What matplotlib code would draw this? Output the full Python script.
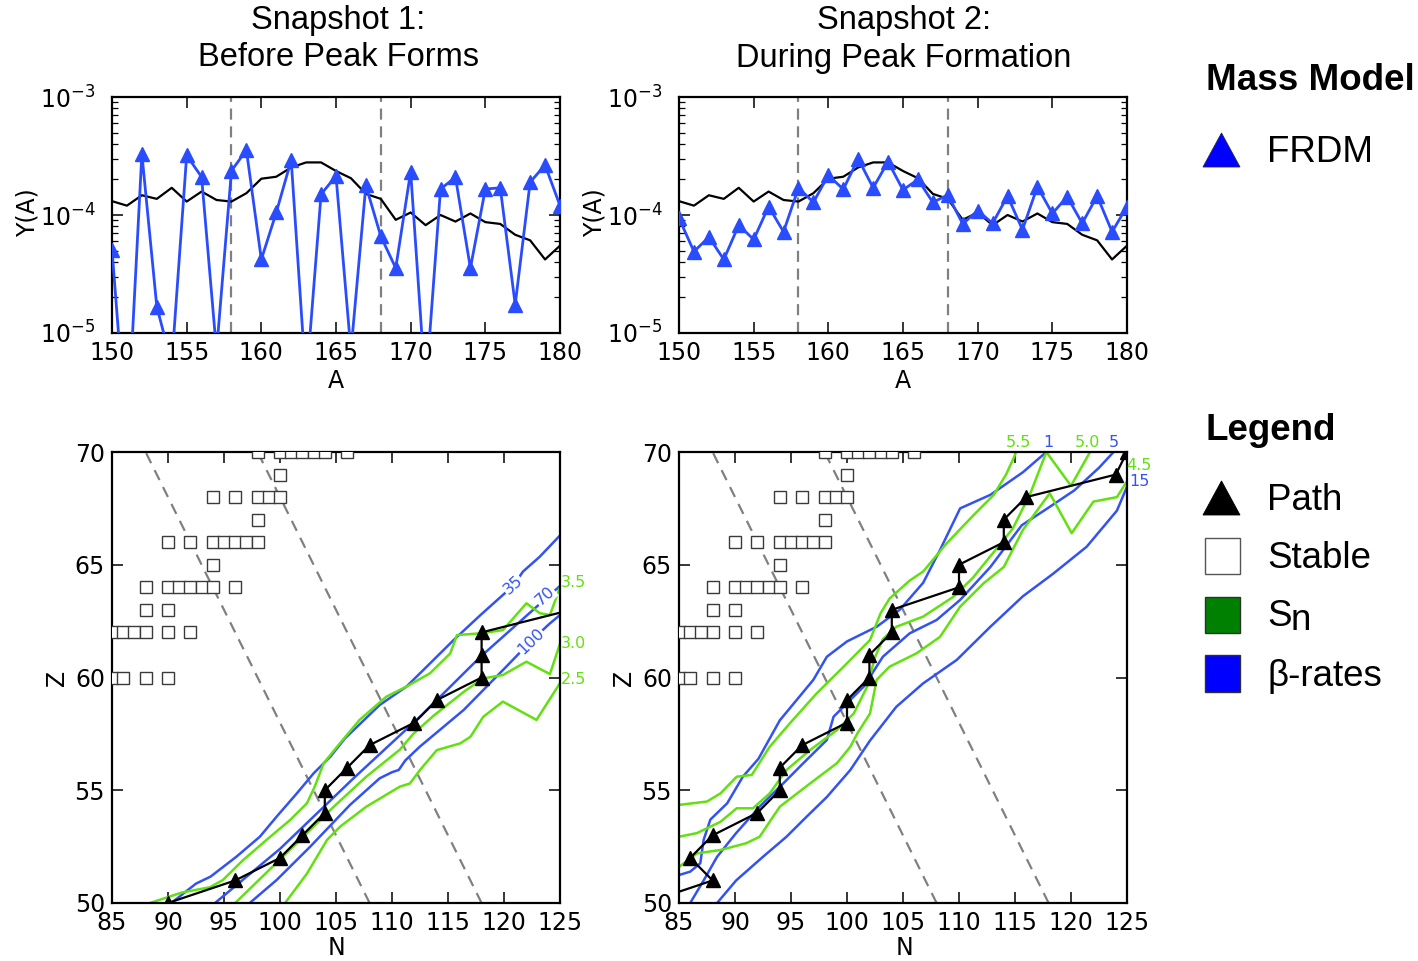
import numpy as np
import matplotlib
matplotlib.use("Agg")
import matplotlib.pyplot as plt
from matplotlib.patches import Polygon, Rectangle
from matplotlib.ticker import NullFormatter

# ---------------- abundance snapshots: Y(A), A = 150..180 ----------------
mass_numbers = list(range(150, 181))
baseline_yield = [1.31e-4, 1.20e-4, 1.47e-4, 1.37e-4, 1.70e-4, 1.30e-4, 1.58e-4,
                  1.34e-4, 1.30e-4, 1.53e-4, 2.03e-4, 2.11e-4, 2.53e-4, 2.79e-4,
                  2.79e-4, 2.36e-4, 2.05e-4, 1.51e-4, 1.37e-4, 9.1e-5, 1.05e-4,
                  8.2e-5, 1.0e-4, 8.8e-5, 1.03e-4, 8.7e-5, 8.4e-5, 6.8e-5, 6.1e-5,
                  4.2e-5, 5.5e-5]
frdm_snapshot1 = [5.1e-5, 1.2e-6, 3.3e-4, 1.67e-5, 5.5e-6, 3.2e-4, 2.1e-4, 7.0e-6,
                  2.37e-4, 3.55e-4, 4.2e-5, 1.05e-4, 2.92e-4, 3.7e-6, 1.5e-4,
                  2.14e-4, 7.0e-6, 1.78e-4, 6.6e-5, 3.55e-5, 2.33e-4, 3.3e-6,
                  1.66e-4, 2.09e-4, 3.55e-5, 1.66e-4, 1.7e-4, 1.74e-5, 1.9e-4,
                  2.65e-4, 1.2e-4]
frdm_snapshot2 = [9.4e-5, 4.9e-5, 6.5e-5, 4.2e-5, 8.2e-5, 6.2e-5, 1.18e-4, 7.2e-5,
                  1.7e-4, 1.28e-4, 2.18e-4, 1.65e-4, 3.0e-4, 1.7e-4, 2.83e-4,
                  1.63e-4, 2.0e-4, 1.28e-4, 1.48e-4, 8.4e-5, 1.09e-4, 8.5e-5,
                  1.45e-4, 7.5e-5, 1.74e-4, 1.03e-4, 1.43e-4, 8.5e-5, 1.45e-4,
                  7.2e-5, 1.18e-4]
peak_window = [158, 168]          # mass numbers bounding the peak region
peak_labels = ["Snapshot 1:\nBefore Peak Forms", "Snapshot 2:\nDuring Peak Formation"]

# ---------------- stable nuclei: Z -> list of N ----------------
stable_nuclei = {
    70: [98, 100, 101, 102, 103, 104, 106],
    69: [100],
    68: [94, 96, 98, 99, 100],
    67: [98],
    66: [90, 92, 94, 95, 96, 97, 98],
    65: [94],
    64: [88, 90, 91, 92, 93, 94, 96],
    63: [88, 90],
    62: [85, 86, 87, 88, 90, 92],
    60: [85, 86, 88, 90],
}

# ---------------- r-process path (N, Z) ----------------
path1_N = [90, 96, 100, 102, 104, 104, 106, 108, 112, 114, 118, 118, 118, 126]
path1_Z = [50, 51, 52, 53, 54, 55, 56, 57, 58, 59, 60, 61, 62, 63]
path2_N = [82, 88, 86, 88, 92, 94, 94, 96, 100, 100, 102, 102, 104, 104, 110, 110,
           114, 114, 116, 124, 125]
path2_Z = [50, 51, 52, 53, 54, 55, 56, 57, 58, 59, 60, 61, 62, 63, 64, 65, 66, 67,
           68, 69, 70]

# ---------------- contour lines, snapshot 1 ----------------
# beta-decay rate contours (levels 35, 70, 100)
beta35_N = [90.3, 92.5, 93.8, 96.1, 98.2, 99.7, 101.5, 103.0, 104.5, 105.8, 108.9,
            111.3, 113.1, 115.5, 117.9, 120.8, 121.7, 123.2, 125.0]
beta35_Z = [50.0, 50.86, 51.17, 52.05, 52.94, 53.83, 54.86, 55.75, 56.49, 57.3, 58.78,
            59.6, 60.48, 61.66, 62.77, 64.06, 64.7, 65.36, 66.3]
beta70_N = [94.2, 100.0, 106.5, 112.5, 117.9, 122.6, 125.0]
beta70_Z = [50.0, 52.4, 55.5, 58.26, 60.92, 63.0, 64.06]
beta100_N = [97.3, 99.7, 102.7, 106.25, 108.9, 110.0, 110.6, 111.2, 112.5, 116.4,
             120.2, 122.5, 124.1, 125.0]
beta100_Z = [50.0, 51.02, 52.5, 54.35, 55.53, 55.8, 55.9, 56.33, 56.94, 58.56,
             60.48, 61.66, 62.4, 62.77]
# neutron separation energy contours (levels 3.5, 3.0, 2.5)
sn35_N = [88.4, 91.2, 93.75, 94.9, 96.7, 98.8, 100.9, 102.4, 103.1, 103.9, 105.1,
          107.1, 109.5, 111.3, 113.4, 115.2, 115.8, 117.9, 119.9, 122.0, 123.2,
          124.1, 125.0]
sn35_Z = [50.0, 50.46, 50.7, 51.02, 51.9, 52.8, 53.68, 54.42, 55.16, 56.2, 56.93,
          58.12, 59.15, 59.6, 60.19, 61.07, 61.88, 61.96, 62.1, 63.29, 62.85,
          62.77, 64.0]
sn30_N = [96.0, 101.8, 104.8, 107.7, 110.7, 111.9, 113.7, 116.5, 118.15, 119.9,
          122.0, 124.1, 125.0]
sn30_Z = [50.0, 52.8, 54.27, 55.6, 56.8, 57.5, 58.3, 59.4, 59.96, 60.11, 60.7,
          60.15, 61.5]
sn25_N = [100.45, 102.4, 104.2, 105.4, 107.7, 110.7, 111.6, 112.5, 114.0, 116.1,
          117.0, 118.15, 119.9, 122.9, 125.0]
sn25_Z = [50.0, 51.3, 52.8, 53.4, 54.27, 55.16, 55.3, 55.9, 56.78, 57.08, 57.37,
          58.26, 58.93, 58.12, 59.75]

# ---------------- contour lines, snapshot 2 ----------------
beta1_N = [85.0, 86.0, 86.9, 87.2, 87.8, 89.3, 90.7, 92.1, 94.0, 95.5, 97.0, 98.2,
           100.0, 102.65, 104.7, 106.8, 108.3, 110.1, 112.8, 115.7, 117.8]
beta1_Z = [51.24, 51.39, 51.76, 52.8, 53.7, 54.42, 55.6, 56.4, 58.1, 59.0, 59.9,
           60.92, 61.6, 62.25, 63.0, 64.2, 65.65, 67.5, 68.1, 69.1, 70.0]
beta5_N = [86.0, 87.2, 88.4, 90.1, 92.2, 94.3, 96.1, 98.2, 98.8, 100.0, 101.5,
           103.2, 105.6, 108.0, 110.1, 112.8, 115.6, 118.2, 120.3, 122.5, 123.8]
beta5_Z = [50.0, 51.0, 52.05, 53.1, 54.27, 55.3, 56.2, 57.23, 58.26, 58.86, 59.6,
           60.92, 61.96, 62.55, 63.44, 64.9, 66.75, 67.6, 68.3, 69.3, 70.0]
beta15_N = [88.4, 90.1, 92.5, 94.6, 96.4, 98.2, 100.3, 102.05, 104.4, 106.8, 109.8,
            112.8, 115.7, 118.4, 121.4, 124.1, 125.0]
beta15_Z = [50.0, 51.0, 52.05, 52.94, 53.83, 54.7, 55.9, 57.2, 58.7, 59.74, 60.78,
            62.25, 63.6, 64.6, 65.8, 67.4, 68.46]
sn55_N = [85.0, 87.5, 88.7, 90.15, 91.5, 93.1, 94.9, 97.3, 99.7, 102.05, 103.0,
          103.8, 105.6, 106.8, 108.9, 111.3, 113.1, 114.2, 114.85, 115.1]
sn55_Z = [54.35, 54.5, 54.86, 55.6, 55.68, 56.93, 57.97, 59.3, 60.48, 61.66, 62.85,
          63.5, 64.3, 64.7, 65.95, 67.2, 68.1, 69.0, 69.7, 70.0]
sn50_N = [85.0, 86.6, 88.7, 90.15, 91.6, 93.1, 94.6, 96.7, 99.1, 100.6, 101.8,
          102.5, 103.2, 104.4, 106.8, 109.5, 111.2, 113.0, 114.8, 116.4, 117.8,
          120.0, 121.7]
sn50_Z = [52.94, 53.1, 53.6, 54.2, 54.2, 54.86, 55.9, 56.78, 57.67, 58.4, 59.6,
          60.9, 61.7, 62.25, 62.7, 63.58, 64.4, 65.5, 66.6, 68.2, 70.0, 68.5, 70.0]
sn45_N = [85.0, 86.6, 88.7, 91.0, 92.2, 94.0, 96.7, 99.1, 100.3, 100.9, 102.05,
          102.65, 103.8, 106.2, 108.3, 110.1, 112.2, 114.0, 115.7, 118.1, 120.06,
          122.0, 124.1, 125.0]
sn45_Z = [51.6, 52.2, 52.35, 52.65, 52.94, 54.27, 55.3, 56.2, 56.93, 57.5, 58.4,
          59.9, 60.48, 61.07, 61.8, 63.14, 64.18, 64.9, 66.54, 68.17, 66.4, 67.8,
          68.0, 68.7]

BLUE_LINE = "#2a4cff"
BLUE_CONT = "#3352f2"
GREEN_CONT = "#62e010"
GRAY_DASH = "#808080"

W, H = 1418, 961
fig = plt.figure(figsize=(W / 100, H / 100), dpi=100)
fig.patch.set_facecolor("white")


def px_axes(x0, y0, x1, y1):
    return fig.add_axes([x0 / W, 1 - y1 / H, (x1 - x0) / W, (y1 - y0) / H])


def style_axes(ax, ypad):
    for s in ax.spines.values():
        s.set_linewidth(1.6)
    ax.tick_params(which="both", direction="in", top=True, right=True)
    ax.tick_params(which="major", length=8, width=1.1, labelsize=17)
    ax.tick_params(which="minor", length=4, width=0.9)
    ax.tick_params(axis="x", pad=6)
    ax.tick_params(axis="y", pad=ypad)


ax_t = [px_axes(112, 97, 560, 333), px_axes(679, 97, 1127, 333)]
ax_b = [px_axes(112, 452, 560, 903), px_axes(679, 452, 1127, 903)]

# ---------------- abundance panels ----------------
for ax, frdm in zip(ax_t, [frdm_snapshot1, frdm_snapshot2]):
    ax.set_yscale("log")
    for a in peak_window:
        ax.axvline(a, color=GRAY_DASH, lw=1.6, ls=(0, (5, 3)), zorder=1)
    ax.plot(mass_numbers, baseline_yield, color="black", lw=1.6, zorder=2)
    ax.plot(mass_numbers, frdm, color=BLUE_LINE, lw=2.0, marker="^", ms=9.5,
            mec=BLUE_LINE, mfc=BLUE_LINE, zorder=3)
    ax.set_xlim(150, 180)
    ax.set_ylim(1e-5, 1e-3)
    ax.set_xticks(range(150, 181, 5))
    ax.set_yticks([1e-5, 1e-4, 1e-3])
    ax.yaxis.set_minor_formatter(NullFormatter())
    style_axes(ax, ypad=12)

# ---------------- nuclear chart panels ----------------
snap_contours = [
    [(beta35_N, beta35_Z, BLUE_CONT), (beta70_N, beta70_Z, BLUE_CONT),
     (beta100_N, beta100_Z, BLUE_CONT), (sn35_N, sn35_Z, GREEN_CONT),
     (sn30_N, sn30_Z, GREEN_CONT), (sn25_N, sn25_Z, GREEN_CONT)],
    [(beta1_N, beta1_Z, BLUE_CONT), (beta5_N, beta5_Z, BLUE_CONT),
     (beta15_N, beta15_Z, BLUE_CONT), (sn55_N, sn55_Z, GREEN_CONT),
     (sn50_N, sn50_Z, GREEN_CONT), (sn45_N, sn45_Z, GREEN_CONT)],
]
# (text, N, Z, colour, rotation, inline)
snap_labels = [
    [("35", 120.8, 64.1, BLUE_CONT, 42, True),
     ("70", 123.7, 63.6, BLUE_CONT, 42, True),
     ("100", 122.4, 61.6, BLUE_CONT, 44, True),
     ("3.5", 126.2, 64.2, GREEN_CONT, 0, False),
     ("3.0", 126.2, 61.5, GREEN_CONT, 0, False),
     ("2.5", 126.2, 59.9, GREEN_CONT, 0, False)],
    [("5.5", 115.3, 70.42, GREEN_CONT, 0, False),
     ("1", 118.0, 70.42, BLUE_CONT, 0, False),
     ("5.0", 121.5, 70.42, GREEN_CONT, 0, False),
     ("5", 123.8, 70.42, BLUE_CONT, 0, False),
     ("4.5", 126.1, 69.42, GREEN_CONT, 0, False),
     ("15", 126.1, 68.67, BLUE_CONT, 0, False)],
]
paths = [(path1_N, path1_Z), (path2_N, path2_Z)]

stable_N = [n for z, ns in stable_nuclei.items() for n in ns]
stable_Z = [z for z, ns in stable_nuclei.items() for n in ns]
z_line = np.array([50, 70])

for ax, contours, labels, (pN, pZ) in zip(ax_b, snap_contours, snap_labels, paths):
    for a in peak_window:
        ax.plot(a - z_line, z_line, color=GRAY_DASH, lw=1.6, ls=(0, (5, 3.5)),
                zorder=1)
    for cN, cZ, col in contours:
        ax.plot(cN, cZ, color=col, lw=1.8, zorder=2)
    ax.plot(stable_N, stable_Z, ls="none", marker="s", ms=8.7, mfc="white",
            mec="#3a3a3a", mew=1.0, zorder=3)
    ax.plot(pN, pZ, color="black", lw=1.6, marker="^", ms=10, zorder=4)
    for txt, n, z, col, rot, inline in labels:
        kw = dict(color=col, fontsize=11.5, rotation=rot, ha="center", va="center",
                  zorder=5, family="DejaVu Sans")
        if inline:
            kw["bbox"] = dict(fc="white", ec="none", pad=0.5)
        ax.text(n, z, txt, **kw)
    ax.set_xlim(85, 125)
    ax.set_ylim(50, 70)
    ax.set_xticks(range(85, 126, 5))
    ax.set_yticks(range(50, 71, 5))
    style_axes(ax, ypad=5)

# ---------------- titles and axis labels ----------------
title_font = dict(family="Liberation Sans", fontsize=23.5, ha="center", va="center")
for cx, lab in zip([338, 904], peak_labels):
    line1, line2 = lab.split("\n")
    fig.text(cx / W, 1 - 21 / H, line1, **title_font)
    fig.text(cx / W, 1 - 58 / H, line2, **title_font)

lab_font = dict(fontsize=17, ha="center", va="center")
for x_off in [0, 567]:
    fig.text((28 + x_off) / W, 1 - 213 / H, "Y(A)", rotation=90, **lab_font)
    fig.text((336 + x_off) / W, 1 - 381 / H, "A", **lab_font)
    fig.text((57 + x_off) / W, 1 - 678 / H, "Z", rotation=90, **lab_font)
    fig.text((337 + x_off) / W, 1 - 948 / H, "N", **lab_font)

# ---------------- legend panel ----------------
lg = fig.add_axes([0, 0, 1, 1], zorder=-1)
lg.set_xlim(0, W)
lg.set_ylim(H, 0)
lg.axis("off")
head = dict(family="Liberation Sans", fontsize=26.5, fontweight="bold",
            ha="left", va="center")
entry = dict(family="Liberation Sans", fontsize=26.5, ha="left", va="center")
lg.text(1206, 81, "Mass Model", **head)
lg.add_patch(Polygon([[1203, 167], [1240, 167], [1221.5, 133]], closed=True,
                     fc="#0000ff", ec="#202060", lw=0.6))
lg.text(1267, 153, "FRDM", **entry)
lg.text(1206, 430, "Legend", **head)
lg.add_patch(Polygon([[1203, 515], [1240, 515], [1221.5, 481]], closed=True,
                     fc="black", ec="black", lw=0.6))
lg.text(1267, 500, "Path", **entry)
lg.add_patch(Rectangle((1205, 538), 35, 36, fc="white", ec="#555555", lw=1.0))
lg.text(1267, 558, "Stable", **entry)
lg.add_patch(Rectangle((1205, 597), 35, 36, fc="#008000", ec="#303030", lw=1.0))
lg.text(1267, 616, "S", **entry)
lg.text(1291, 621, "n", **entry)
lg.add_patch(Rectangle((1205, 655), 35, 37, fc="#0000ff", ec="#303030", lw=1.0))
lg.text(1267, 676, "β-rates", **entry)

fig.savefig("out.png", dpi=100, facecolor="white")
